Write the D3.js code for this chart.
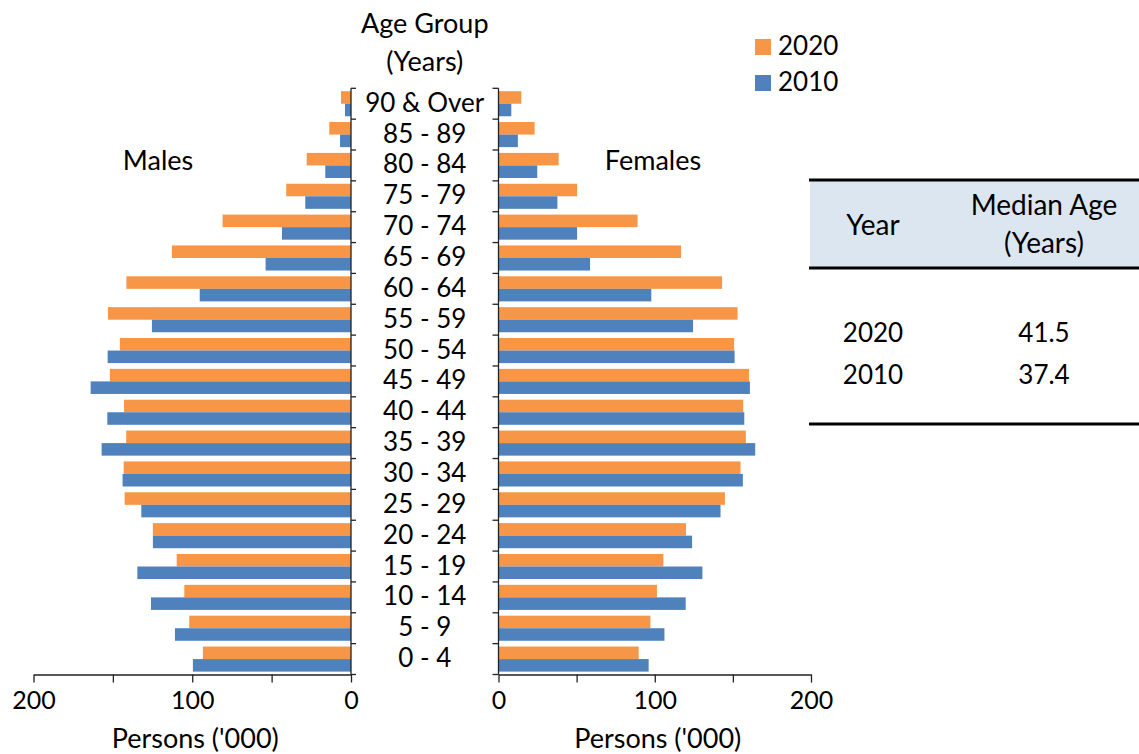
<!DOCTYPE html>
<html>
<head>
<meta charset="utf-8">
<script src="https://cdn.jsdelivr.net/npm/d3@7/dist/d3.min.js"></script>
<style>
  html, body { margin: 0; padding: 0; background: #fff; }
  svg { display: block; }
  text { font-family: Lato, "Open Sans", sans-serif; fill: #000; }
</style>
</head>
<body>
<svg id="chart" width="1139" height="754"></svg>
<script>
// ---- Data (thousands of persons) ----
const ageGroups = ["90 & Over","85 - 89","80 - 84","75 - 79","70 - 74","65 - 69","60 - 64","55 - 59","50 - 54","45 - 49","40 - 44","35 - 39","30 - 34","25 - 29","20 - 24","15 - 19","10 - 14","5 - 9","0 - 4"];
const series = ["2020","2010"];
const males2020   = [6.3, 13.7, 27.9, 40.8, 80.9, 112.8, 141.5, 153.1, 145.6, 151.9, 143.0, 141.6, 143.2, 142.6, 124.8, 109.8, 105.0, 101.9, 93.3];
const males2010   = [3.8, 6.9, 16.2, 28.8, 43.5, 53.8, 95.3, 125.4, 153.3, 164.0, 153.5, 157.1, 143.9, 132.1, 124.8, 134.6, 126.0, 110.9, 99.6];
const females2020 = [14.6, 23.1, 38.5, 50.3, 89.0, 116.8, 143.1, 153.0, 150.8, 160.3, 156.6, 158.3, 154.9, 144.9, 120.0, 105.5, 101.4, 97.2, 89.7];
const females2010 = [8.2, 12.4, 24.8, 37.7, 50.3, 58.6, 97.8, 124.5, 151.1, 160.9, 157.3, 164.3, 156.4, 142.1, 123.9, 130.5, 119.8, 106.2, 96.1];
const xTicks = [0, 50, 100, 150, 200];
const xTickLabels = [0, 100, 200];
const tableHeader = ["Year", ["Median Age", "(Years)"]];
const tableYears = ["2020", "2010"];
const medianAges = ["41.5", "37.4"];

const colors = { "2020": "#F79646", "2010": "#4F81BD" };

const svg = d3.select("#chart");
const FS = 26;   // digit-heavy labels
const FW = 27;   // word labels

// ---- Scales ----
const y = d3.scaleBand().domain(ageGroups).range([88.3, 674.5]).padding(0);
const ySub = d3.scaleBand().domain(series).range([0, y.bandwidth()]).paddingInner(0).paddingOuter(0.23);
const xL = d3.scaleLinear().domain([0, 200]).range([351, 33.5]);
const xR = d3.scaleLinear().domain([0, 200]).range([498.5, 811]);

const maleData = { "2020": males2020, "2010": males2010 };
const femaleData = { "2020": females2020, "2010": females2010 };

// ---- Bars ----
series.forEach(s => {
  svg.append("g").selectAll("rect").data(ageGroups).join("rect")
    .attr("x", (d, i) => xL(maleData[s][i]))
    .attr("width", (d, i) => xL(0) - xL(maleData[s][i]))
    .attr("y", d => y(d) + ySub(s))
    .attr("height", ySub.bandwidth())
    .attr("fill", colors[s]);
  svg.append("g").selectAll("rect").data(ageGroups).join("rect")
    .attr("x", xR(0))
    .attr("width", (d, i) => xR(femaleData[s][i]) - xR(0))
    .attr("y", d => y(d) + ySub(s))
    .attr("height", ySub.bandwidth())
    .attr("fill", colors[s]);
});

// ---- Vertical axes (category boundaries) ----
const bounds = ageGroups.map(d => y(d)).concat([y.range()[1]]);
const yTop = y.range()[0], yBot = y.range()[1];
const axisColor = "#222";
[[xL(0), 5], [xR(0), -6]].forEach(([x0, dx]) => {
  const g = svg.append("g");
  g.append("line").attr("x1", x0).attr("x2", x0).attr("y1", yTop).attr("y2", yBot)
    .attr("stroke", axisColor).attr("stroke-width", 1.3);
  g.selectAll("line.t").data(bounds).join("line").attr("class", "t")
    .attr("x1", x0).attr("x2", x0 + dx).attr("y1", d => d).attr("y2", d => d)
    .attr("stroke", axisColor).attr("stroke-width", 1.3);
});

// ---- Horizontal axes ----
function styleAxis(g) {
  g.select(".domain").attr("stroke", axisColor).attr("stroke-width", 1.3);
  g.selectAll(".tick line").attr("stroke", axisColor).attr("stroke-width", 1.3);
  g.selectAll(".tick text").attr("font-family", "Lato, sans-serif").attr("font-size", 25).attr("fill", "#000");
}
[xL, xR].forEach(sc => {
  const ax = d3.axisBottom(sc).tickValues(xTicks).tickSize(8).tickSizeOuter(0).tickPadding(9)
    .tickFormat(d => xTickLabels.includes(d) ? d : "");
  svg.append("g").attr("transform", `translate(0,${yBot})`).call(ax).call(styleAxis);
});

// ---- Axis titles ----
svg.append("text").attr("x", xL(100) + 3).attr("y", 748).attr("text-anchor", "middle").attr("font-size", FW).text("Persons ('000)");
svg.append("text").attr("x", xR(100) + 3).attr("y", 748).attr("text-anchor", "middle").attr("font-size", FW).text("Persons ('000)");

// ---- Category labels ----
const midX = (xL(0) + xR(0)) / 2;
svg.append("g").selectAll("text").data(ageGroups).join("text")
  .attr("x", midX).attr("y", d => y(d) + y.bandwidth() / 2 + 8)
  .attr("text-anchor", "middle").attr("font-size", FS).text(d => d);

svg.append("text").attr("x", midX).attr("y", 33).attr("text-anchor", "middle").attr("font-size", FW).text("Age Group");
svg.append("text").attr("x", midX).attr("y", 71).attr("text-anchor", "middle").attr("font-size", FW).text("(Years)");

svg.append("text").attr("x", 158).attr("y", 170).attr("text-anchor", "middle").attr("font-size", FW).text("Males");
svg.append("text").attr("x", 653).attr("y", 170).attr("text-anchor", "middle").attr("font-size", FW).text("Females");

// ---- Legend ----
const legend = svg.append("g");
series.forEach((s, i) => {
  const ly = 39 + i * 36;
  legend.append("rect").attr("x", 755).attr("y", ly).attr("width", 16).attr("height", 16).attr("fill", colors[s]);
  legend.append("text").attr("x", 778).attr("y", ly + 15.5).attr("font-size", FS).text(s);
});

// ---- Median age table ----
const tb = svg.append("g");
tb.append("rect").attr("x", 810).attr("y", 180).attr("width", 329).attr("height", 88).attr("fill", "#DCE6F1");
[180, 268, 424].forEach(yy => tb.append("line").attr("x1", 809).attr("x2", 1139).attr("y1", yy).attr("y2", yy)
  .attr("stroke", "#000").attr("stroke-width", 3));
const col1 = 873, col2 = 1044;
tb.append("text").attr("x", col1).attr("y", 235).attr("text-anchor", "middle").attr("font-size", 28).text(tableHeader[0]);
tb.append("text").attr("x", col2).attr("y", 215).attr("text-anchor", "middle").attr("font-size", 28).text(tableHeader[1][0]);
tb.append("text").attr("x", col2).attr("y", 253).attr("text-anchor", "middle").attr("font-size", 28).text(tableHeader[1][1]);
tableYears.forEach((yr, i) => {
  const by = 342 + i * 42;
  tb.append("text").attr("x", col1).attr("y", by).attr("text-anchor", "middle").attr("font-size", FS).text(yr);
  tb.append("text").attr("x", col2).attr("y", by).attr("text-anchor", "middle").attr("font-size", FS).text(medianAges[i]);
});
</script>
</body>
</html>
